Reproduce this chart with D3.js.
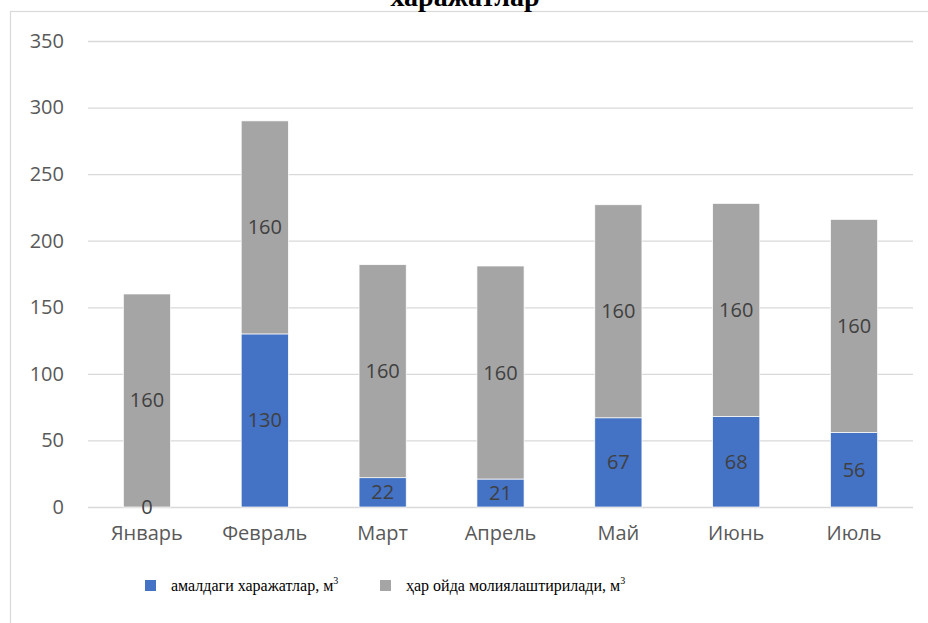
<!DOCTYPE html>
<html><head><meta charset="utf-8">
<script src="https://cdn.jsdelivr.net/npm/d3@7"></script>
<style>body{margin:0;background:#fff}svg{display:block}</style>
</head><body>
<svg id="c" width="928" height="623"></svg>
<script>
const categories = ["Январь","Февраль","Март","Апрель","Май","Июнь","Июль"];
const actual = [0,130,22,21,67,68,56];
const planned = [160,160,160,160,160,160,160];
const yTicks = [0,50,100,150,200,250,300,350];
const seriesNames = ["амалдаги харажатлар, м","ҳар ойда молиялаштирилади, м"];
const colors = ["#4472c4","#a5a5a5"];
const titleText = "харажатлар";

const svg = d3.select("#c");
// chart border
svg.append("rect").attr("x",10.5).attr("y",11.5).attr("width",940).attr("height",640)
  .attr("fill","none").attr("stroke","#d9d9d9").attr("stroke-width",1.2);
// title (mostly cut off at top, as in the reference)
svg.append("text").attr("x",465).attr("y",6).attr("text-anchor","middle")
  .attr("font-family","Liberation Serif, serif").attr("font-weight","bold").attr("font-size",28)
  .attr("fill","#000").text(titleText);

const x = d3.scaleBand().domain(categories).range([88,913]).paddingInner(0.6).paddingOuter(0.3);
const y = d3.scaleLinear().domain([0,350]).range([507,41]);

const g = svg.append("g");
// gridlines
g.selectAll("line.grid").data(yTicks).join("line")
  .attr("x1",88).attr("x2",913).attr("y1",d=>y(d)+0.5).attr("y2",d=>y(d)+0.5)
  .attr("stroke","#d9d9d9").attr("stroke-width",1.3);
const axFont = "Open Sans, Noto Sans, sans-serif";
// y labels
const yAxis = d3.axisLeft(y).tickValues(yTicks).tickSize(0).tickPadding(0);
const ya = svg.append("g").attr("transform","translate(64,0)").call(yAxis);
ya.select(".domain").remove();
ya.selectAll("text").attr("font-family",axFont).attr("font-size",20).attr("fill","#595959");

// x labels
const xAxis = d3.axisBottom(x).tickSize(0).tickPadding(0);
const xa = svg.append("g").attr("transform","translate(0,526)").call(xAxis);
xa.select(".domain").remove();
xa.selectAll("text").attr("font-family",axFont).attr("font-size",20).attr("fill","#595959");

const data = categories.map((c,i)=>({c, a:actual[i], p:planned[i]}));
// blue bars
g.selectAll("rect.a").data(data).join("rect")
  .attr("x",d=>x(d.c)).attr("width",x.bandwidth())
  .attr("y",d=>y(d.a)).attr("height",d=>y(0)-y(d.a))
  .attr("fill",colors[0]).attr("stroke","#fff").attr("stroke-width",0.7);
// gray bars
g.selectAll("rect.p").data(data).join("rect")
  .attr("x",d=>x(d.c)).attr("width",x.bandwidth())
  .attr("y",d=>y(d.a+d.p)).attr("height",d=>y(d.a)-y(d.a+d.p))
  .attr("fill",colors[1]).attr("stroke","#fff").attr("stroke-width",0.7);

g.selectAll("text.la").data(data).join("text")
  .attr("x",d=>x(d.c)+x.bandwidth()/2).attr("y",d=>y(d.a/2))
  .attr("dy","0.35em").attr("text-anchor","middle")
  .attr("font-family",axFont).attr("font-size",20).attr("fill","#404040").text(d=>d.a);
g.selectAll("text.lp").data(data).join("text")
  .attr("x",d=>x(d.c)+x.bandwidth()/2).attr("y",d=>y(d.a+d.p/2))
  .attr("dy","0.35em").attr("text-anchor","middle")
  .attr("font-family",axFont).attr("font-size",20).attr("fill","#404040").text(d=>d.p);

// legend
const legX = [145,380];
seriesNames.forEach((s,i)=>{
  svg.append("rect").attr("x",legX[i]).attr("y",580).attr("width",11).attr("height",11).attr("fill",colors[i]);
  const t = svg.append("text").attr("x",legX[i]+26).attr("y",591)
    .attr("font-family","Liberation Serif, Times New Roman, serif").attr("font-size",16).attr("fill","#000");
  t.append("tspan").text(s);
  t.append("tspan").attr("dy",-7).attr("font-size",10).text("3");
});
</script>
</body></html>
